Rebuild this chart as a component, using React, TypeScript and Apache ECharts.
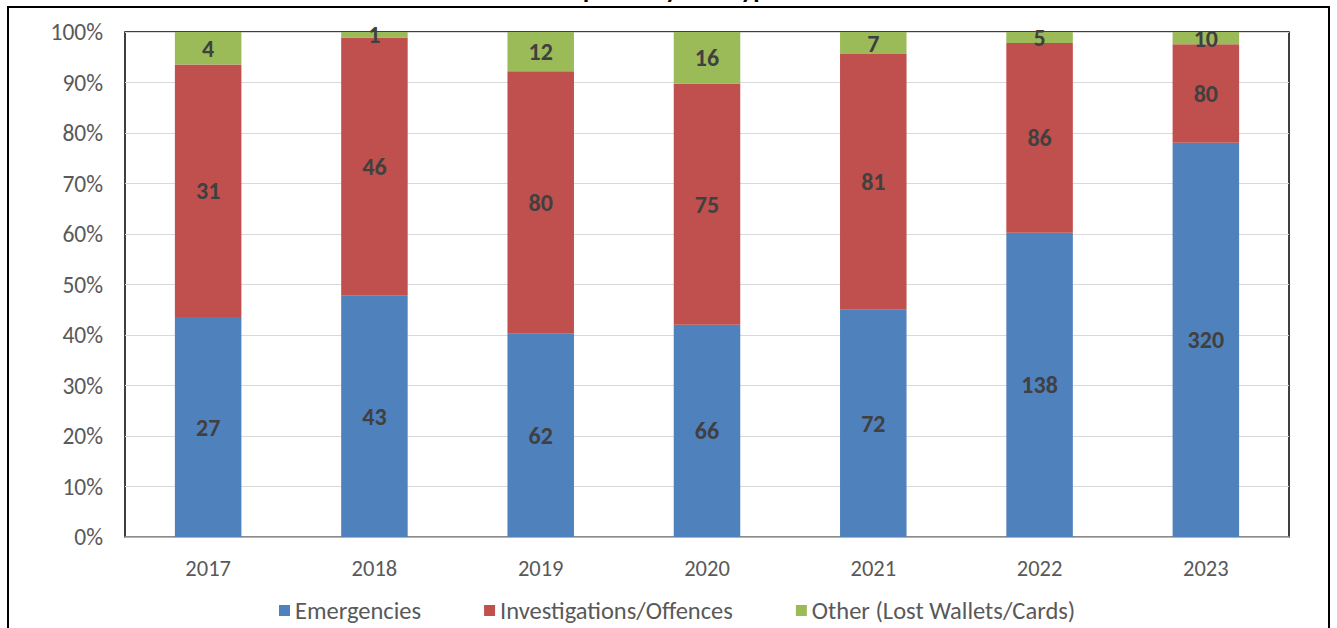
import React, { useEffect, useRef } from "react";
import * as echarts from "echarts";

const years = ["2017", "2018", "2019", "2020", "2021", "2022", "2023"];
const emergencies = [27, 43, 62, 66, 72, 138, 320];
const investigations = [31, 46, 80, 75, 81, 86, 80];
const other = [4, 1, 12, 16, 7, 5, 10];
const seriesNames = ["Emergencies", "Investigations/Offences", "Other (Lost Wallets/Cards)"];
const colors = ["#4F81BD", "#C0504D", "#9BBB59"];
const titleText = "Requests by Call Type";

const FONT = "Carlito, Calibri, Lato, 'Liberation Sans', Arial, sans-serif";

export default function App() {
  const ref = useRef<HTMLDivElement>(null);
  useEffect(() => {
    if (!ref.current) return;
    const chart = echarts.init(ref.current, undefined, { renderer: "svg" });
    const totals = years.map((_, i) => emergencies[i] + investigations[i] + other[i]);
    const raw = [emergencies, investigations, other];
    const series = raw.map((arr, k) => ({
      name: seriesNames[k],
      type: "bar",
      stack: "total",
      barWidth: "40%",
      data: arr.map((v, i) => (v / totals[i]) * 100),
      itemStyle: { color: colors[k] },
      label: {
        show: true,
        position: "inside",
        formatter: (p: any) => String(raw[k][p.dataIndex]),
        color: "#404040",
        fontWeight: "bold",
        fontSize: 24,
        fontFamily: FONT,
      },
    }));
    chart.setOption({
      animation: false,
      textStyle: { fontFamily: FONT },
      graphic: [
        {
          type: "rect",
          shape: { x: 8, y: 7, width: 1321, height: 700 },
          style: { fill: "none", stroke: "#000", lineWidth: 2 },
          z: 100,
        },
        {
          type: "text",
          x: 664,
          y: 2,
          style: {
            text: titleText,
            fontSize: 26,
            fontWeight: "bold",
            fontFamily: FONT,
            fill: "#000",
            align: "center",
            verticalAlign: "bottom",
          },
        },
      ],
      grid: {
        left: 125,
        right: 48,
        top: 32,
        bottom: 91,
        show: true,
        borderColor: "#000",
        borderWidth: 1.5,
        backgroundColor: "#fff",
      },
      legend: {
        bottom: 0,
        left: 274,
        itemWidth: 11,
        itemHeight: 11,
        itemGap: 63,
        icon: "rect",
        textStyle: { fontSize: 24.5, color: "#595959", fontFamily: FONT },
        data: seriesNames,
      },
      xAxis: {
        type: "category",
        data: years,
        axisLine: { lineStyle: { color: "#A6A6A6", width: 1.5 } },
        axisTick: { show: false },
        axisLabel: { fontSize: 22.5, color: "#595959", margin: 20, fontFamily: FONT },
      },
      yAxis: {
        type: "value",
        min: 0,
        max: 100,
        interval: 10,
        axisLabel: { formatter: "{value}%", fontSize: 23.5, color: "#595959", margin: 22, fontFamily: FONT },
        splitLine: { lineStyle: { color: "#D9D9D9", width: 1 } },
        axisLine: { show: false },
        axisTick: { show: false },
      },
      series,
    });
    return () => chart.dispose();
  }, []);
  return (
    <div
      ref={ref}
      style={{ position: "absolute", left: 0, top: 0, width: 1337, height: 628, background: "#fff" }}
    />
  );
}
